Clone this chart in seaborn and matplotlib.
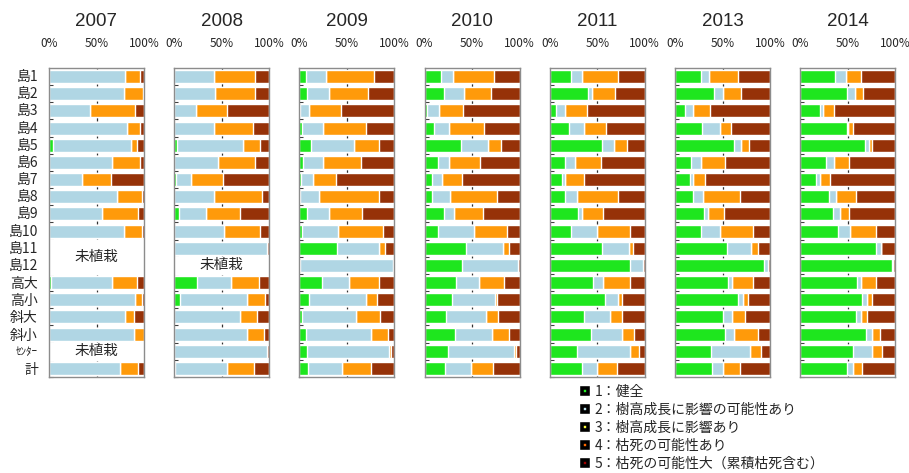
import matplotlib
matplotlib.use("Agg")
import matplotlib.pyplot as plt
from matplotlib.lines import Line2D
import numpy as np
import pandas as pd
import seaborn as sns

N = None

rows = ["島1", "島2", "島3", "島4", "島5", "島6", "島7", "島8", "島9", "島10",
        "島11", "島12", "高大", "高小", "斜大", "斜小", "ｾﾝﾀｰ", "計"]
years = ["2007", "2008", "2009", "2010", "2011", "2013", "2014"]

class_labels = [
    "1：健全",
    "2：樹高成長に影響の可能性あり",
    "3：樹高成長に影響あり",
    "4：枯死の可能性あり",
    "5：枯死の可能性大（累積枯死含む）",
]
bar_colors = ["#1ee61e", "#b0d6e4", "#ffd21e", "#ff9a0a", "#963208"]
legend_dots = ["#22ee22", "#bfe4ee", "#ffff40", "#ff6a00", "#a00000"]

# 2007
g2007 = [0, 0, 0, 0, 4.5, 0, 0, 0, 0, 0, N, N, 2.5, 0, 0, 0, N, 0]
b2007 = [80, 78.5, 43, 82, 81.5, 66, 35, 72, 56, 79, N, N, 63.5, 90.5, 80, 89.5, N, 75]
y2007 = [0, 0, 0, 0, 0, 0, 0, 0, 0, 0, N, N, 0, 0, 0, 0, N, 0]
o2007 = [16, 20, 47, 14, 7, 30, 30, 25.5, 38, 19, N, N, 26.5, 7.5, 9.5, 10, N, 19]
r2007 = [4, 1.5, 10, 4, 7, 4, 35, 2.5, 6, 2, N, N, 7.5, 2, 10.5, 0.5, N, 6]

# 2008
g2008 = [0, 0, 0, 0, 3, 0, 1.5, 0, 5, 0, 0, N, 24, 6, 0, 0, 0, 1]
b2008 = [41.5, 42.5, 23, 41.5, 69, 46, 16.5, 41.5, 28, 52, 98, N, 36, 71, 69, 76.5, 98, 55]
y2008 = [0, 0, 0, 0, 0, 0, 0, 0, 0, 0, 0, N, 0, 0, 0, 0, 0, 0]
o2008 = [43.5, 42.5, 33, 41.5, 18, 39, 33, 50.5, 36, 38, 0, N, 29, 19, 18, 17.5, 0, 28]
r2008 = [15, 15, 44, 17, 10, 15, 49, 8, 31, 10, 2, N, 11, 4, 13, 6, 2, 16]

# 2009
g2009 = [6.5, 8, 0.5, 2.5, 12.5, 4, 2, 0.5, 8, 2.5, 39.5, 0.5, 24, 10.5, 2.5, 6.5, 8.5, 9]
b2009 = [21.5, 23, 9.5, 22.5, 44.5, 21, 12, 20, 23, 38, 44.5, 97.5, 28, 60, 57.5, 68.5, 86, 36]
y2009 = [0, 0, 0, 0, 0, 0, 0, 0, 0, 0, 0, 2, 0, 0, 0, 0, 0, 0]
o2009 = [50, 41, 34, 45, 27, 40, 25, 63.5, 35, 47.5, 6, 0, 32, 11.5, 25, 18, 1.5, 30.5]
r2009 = [22, 28, 56, 30, 16, 35, 61, 16, 34, 12, 10, 0, 16, 18, 15, 7, 4, 24.5]

# 2010
g2010 = [17.5, 20, 2.5, 10, 38, 14, 8, 8, 20, 14, 44, 39, 33, 29, 22.5, 32, 25, 21.5]
b2010 = [12, 21, 12.5, 16, 29, 12, 10, 19, 11, 38.5, 38.5, 59, 24, 45, 42.5, 39, 69.5, 27.5]
y2010 = [0, 0, 0, 0, 0, 0, 0, 0, 0, 0, 0, 0, 0, 0, 0, 0, 0, 0]
o2010 = [44, 28.5, 25, 37, 13.5, 32, 21, 49.5, 30, 34.5, 6, 0, 27, 2, 12.5, 18, 1.5, 23.5]
r2010 = [26.5, 30.5, 60, 37, 19.5, 42, 61, 23.5, 39, 13, 11.5, 2, 16, 24, 22.5, 11, 4, 27.5]

# 2011
g2011 = [22, 40, 6.5, 20, 55, 16, 12.5, 16, 30, 22, 55, 84.5, 46, 58, 35.5, 43, 28.5, 34]
b2011 = [12, 4.5, 9, 15.5, 12.5, 11, 3.5, 13, 4, 28, 28, 13.5, 10, 14, 27.5, 32.5, 55.5, 16]
y2011 = [0, 0, 0, 0, 0, 0, 0, 0, 0, 0, 0, 0, 0, 0, 0, 0, 0, 0]
o2011 = [37.5, 24.5, 23.5, 23.5, 13.5, 26.5, 20, 42.5, 21.5, 34, 5, 0, 28, 4.5, 12.5, 13.5, 10, 20.5]
r2011 = [28.5, 31, 61, 41, 19, 46.5, 64, 28.5, 44.5, 16, 12, 2, 16, 23.5, 24.5, 11, 6, 29.5]

# 2013
g2013 = [27.5, 41.5, 10.5, 28.5, 62, 16.5, 15.5, 18.5, 31, 27, 54.5, 93.5, 56, 66, 50.5, 53, 37.5, 39]
b2013 = [8, 9, 8.5, 18.5, 7.5, 11, 3.5, 11, 4, 20.5, 25, 4.5, 4, 6, 10, 9.5, 41, 11.5]
y2013 = [0, 0, 0, 0, 0, 0, 0, 0, 0, 0, 0, 0, 0, 0, 0, 0, 0, 0]
o2013 = [30.5, 18.5, 18, 12, 8.5, 25.5, 13, 39, 17, 35, 7.5, 0, 22.5, 4.5, 13, 24.5, 12, 18]
r2013 = [34, 31, 63, 41, 22, 47, 68, 31.5, 48, 17.5, 13, 2, 17.5, 23.5, 26.5, 13, 9.5, 31.5]

# 2014
g2014 = [37, 49, 21, 49, 68.5, 27.5, 16.5, 30, 35, 39.5, 80, 97, 60, 65.5, 59, 69, 56, 49]
b2014 = [11.5, 9, 3, 1, 3.5, 8.5, 4.5, 7.5, 6.5, 12.5, 5, 1, 4.5, 5, 5, 7, 20, 6.5]
y2014 = [0, 0, 0, 0, 0, 0, 0, 0, 0, 0, 0, 0, 0, 0, 0, 0, 0, 0]
o2014 = [16, 8.5, 11.5, 6, 4, 15, 10, 21.5, 9.5, 27.5, 0, 0, 15.5, 5.5, 6.5, 8.5, 10.5, 10]
r2014 = [35.5, 33.5, 64.5, 44, 24, 49, 69, 41, 49, 20.5, 15, 2, 20, 24, 29.5, 15.5, 13.5, 34.5]

# rows with no planting yet: (first row, last row) per year
unplanted = {
    "2007": [("島11", "島12"), ("ｾﾝﾀｰ", "ｾﾝﾀｰ")],
    "2008": [("島12", "島12")],
}

parts_by_year = {
    "2007": [g2007, b2007, y2007, o2007, r2007],
    "2008": [g2008, b2008, y2008, o2008, r2008],
    "2009": [g2009, b2009, y2009, o2009, r2009],
    "2010": [g2010, b2010, y2010, o2010, r2010],
    "2011": [g2011, b2011, y2011, o2011, r2011],
    "2013": [g2013, b2013, y2013, o2013, r2013],
    "2014": [g2014, b2014, y2014, o2014, r2014],
}

sns.set_style("white")
plt.rcParams["font.family"] = ["Noto Sans CJK JP", "DejaVu Sans"]

W, H = 909, 473
fig = plt.figure(figsize=(W / 100, H / 100), dpi=100)

ax_top, ax_bottom = 68, 377
ax_w = 95
n = len(rows)


def build_frame(parts):
    frame = pd.DataFrame({"row": rows})
    for k, values in enumerate(parts):
        frame[f"p{k}"] = pd.to_numeric(pd.Series(values, dtype="object"), errors="coerce")
    frame = frame.dropna().reset_index(drop=True)
    cols = [f"p{k}" for k in range(len(parts))]
    cum = frame[cols].cumsum(axis=1)
    for k, col in enumerate(cols):
        frame[f"c{k}"] = cum[col]
    return frame


for i, year in enumerate(years):
    left = 49 + i * 125.2
    ax = fig.add_axes([left / W, 1 - ax_bottom / H, ax_w / W, (ax_bottom - ax_top) / H])
    frame = build_frame(parts_by_year[year])

    ax.axvline(50, color="#303030", lw=0.9, zorder=0.5)
    for k in range(4, -1, -1):
        sns.barplot(data=frame, x=f"c{k}", y="row", order=rows, orient="h",
                    color=bar_colors[k], saturation=1, width=0.76,
                    errorbar=None, ax=ax, zorder=1)

    for first, last in unplanted.get(year, []):
        a, b = rows.index(first), rows.index(last)
        ax.axhspan(a - 0.5, b + 0.5, color="white", zorder=1.5)
        ax.text(50, (a + b) / 2, "未植栽", ha="center", va="center",
                fontsize=10.5, zorder=3)

    ax.set_xlim(0, 100)
    ax.set_ylim(n - 0.5, -0.5)
    ax.set_xlabel("")
    ax.set_ylabel("")
    ax.set_xticks([0, 50, 100])
    ax.set_xticklabels(["0%", "50%", "100%"])
    ax.xaxis.tick_top()
    ax.tick_params(axis="x", length=0, pad=13, labelsize=8.5)
    ax.set_yticks(np.arange(n) + 0.5, minor=True)
    ax.tick_params(axis="y", which="minor", direction="in", length=3,
                   width=0.8, color="#404040", left=True)
    ax.tick_params(axis="y", which="major", length=0, pad=8, labelsize=10)
    if i == 0:
        for lbl in ax.get_yticklabels():
            if lbl.get_text() == "ｾﾝﾀｰ":
                lbl.set_fontsize(8)
    else:
        ax.set_yticklabels([])
    for sp in ax.spines.values():
        sp.set_color("#8c8c8c")
        sp.set_linewidth(1)
        sp.set_visible(True)

    ax.text(0.5, 1 + (ax_top - 21) / (ax_bottom - ax_top), year,
            transform=ax.transAxes, ha="center", va="center",
            fontsize=13.5, family=["Liberation Sans", "DejaVu Sans"])

# legend keys: black square with a small coloured dot in the middle
handles = [
    Line2D([], [], marker="s", markersize=5, ls="none",
           markerfacecolor=dot, markeredgecolor="black", markeredgewidth=2.6)
    for dot in legend_dots
]
fig.legend(handles, class_labels, loc="upper left",
           bbox_to_anchor=(579 / W, 1 - 385 / H), frameon=False,
           fontsize=10, handlelength=0.8, handletextpad=0.3,
           labelspacing=0.28, borderaxespad=0, borderpad=0)

fig.savefig("out.png", dpi=100)
